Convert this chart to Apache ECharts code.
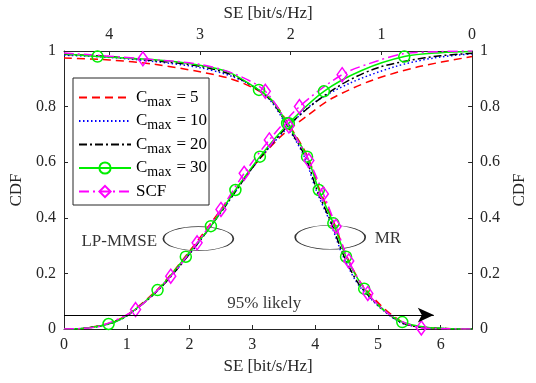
<!DOCTYPE html>
<html>
<head>
<meta charset="utf-8">
<script src="https://cdn.jsdelivr.net/npm/echarts@6/dist/echarts.min.js"></script>
<style>
  html, body { margin: 0; padding: 0; background: #ffffff; }
  #chart { width: 536px; height: 383px; }
</style>
</head>
<body>
<div id="chart"></div>
<script>
// ---- LP-MMSE CDFs (bottom SE axis) ----
const lpC5X  = [0, 0.3, 0.71, 1.0, 1.5, 2.0, 2.5, 3.0, 3.44, 3.89, 4.27, 4.9, 5.64, 6.5];
const lpC5Y  = [0, 0.002, 0.02, 0.05, 0.145, 0.28, 0.43, 0.58, 0.69, 0.77, 0.83, 0.894, 0.943, 0.98];
const lpC10X = [0, 0.3, 0.71, 1.0, 1.5, 2.0, 2.5, 3.0, 3.5, 3.96, 4.54, 5.26, 5.89, 6.5];
const lpC10Y = [0, 0.002, 0.018, 0.047, 0.14, 0.27, 0.42, 0.58, 0.71, 0.81, 0.883, 0.943, 0.975, 0.99];
const lpC20X = [0, 0.3, 0.71, 1.0, 1.5, 2.0, 2.5, 3.0, 3.5, 4.0, 4.5, 5.0, 5.5, 6.0, 6.5];
const lpC20Y = [0, 0.002, 0.018, 0.047, 0.14, 0.27, 0.42, 0.58, 0.715, 0.815, 0.89, 0.94, 0.966, 0.983, 0.992];
const lpC30X = [0, 0.3, 0.71, 1.0, 1.49, 1.94, 2.34, 2.73, 3.12, 3.58, 4.14, 4.74, 5.42, 6.0, 6.5];
const lpC30Y = [0, 0.002, 0.018, 0.048, 0.14, 0.26, 0.37, 0.50, 0.62, 0.74, 0.855, 0.93, 0.98, 0.994, 0.998];
const lpC30Marks = [2, 4, 5, 6, 7, 8, 9, 10, 12];
const lpScfX = [0, 0.3, 0.6, 1.14, 1.70, 2.12, 2.5, 2.87, 3.27, 3.75, 4.43, 5.0, 5.4, 6.0, 6.5];
const lpScfY = [0, 0.002, 0.012, 0.07, 0.19, 0.31, 0.43, 0.56, 0.68, 0.80, 0.915, 0.965, 0.99, 0.998, 1.0];
const lpScfMarks = [3, 4, 5, 6, 7, 8, 9, 10];

// ---- MR CDFs (top SE axis, reversed) ----
const mrC5X  = [4.5, 4.0, 3.5, 3.0, 2.66, 2.4, 2.2, 2.04, 1.82, 1.68, 1.52, 1.38, 1.18, 0.77, 0.4, 0];
const mrC5Y  = [0.975, 0.968, 0.952, 0.925, 0.90, 0.865, 0.82, 0.745, 0.625, 0.50, 0.38, 0.26, 0.145, 0.025, 0.003, 0];
const mrC10X = [4.5, 4.0, 3.5, 3.0, 2.66, 2.4, 2.22, 2.06, 1.85, 1.72, 1.56, 1.42, 1.22, 0.8, 0.4, 0];
const mrC10Y = [0.985, 0.977, 0.962, 0.94, 0.91, 0.87, 0.82, 0.74, 0.62, 0.50, 0.38, 0.26, 0.145, 0.025, 0.003, 0];
const mrC20X = [4.5, 4.0, 3.5, 3.0, 2.66, 2.38, 2.21, 2.05, 1.84, 1.71, 1.55, 1.41, 1.21, 0.79, 0.4, 0];
const mrC20Y = [0.988, 0.98, 0.965, 0.945, 0.915, 0.865, 0.82, 0.74, 0.62, 0.50, 0.38, 0.26, 0.145, 0.025, 0.003, 0];
const mrC30X = [4.5, 4.13, 3.56, 3.02, 2.69, 2.35, 2.2, 2.04, 1.82, 1.69, 1.53, 1.39, 1.19, 1.0, 0.77, 0.5, 0.25, 0];
const mrC30Y = [0.99, 0.98, 0.97, 0.95, 0.925, 0.86, 0.82, 0.74, 0.62, 0.50, 0.38, 0.26, 0.145, 0.075, 0.025, 0.006, 0.001, 0];
const mrC30Marks = [1, 5, 7, 8, 9, 10, 11, 12, 14];
const mrScfX = [4.5, 3.63, 3.0, 2.6, 2.28, 2.02, 1.80, 1.64, 1.50, 1.36, 1.15, 0.9, 0.56, 0.3, 0];
const mrScfY = [0.993, 0.972, 0.952, 0.915, 0.855, 0.73, 0.606, 0.486, 0.369, 0.245, 0.128, 0.05, 0.004, 0.001, 0];
const mrScfMarks = [1, 4, 5, 6, 7, 8, 9, 10, 12];

// ---- legend entries and annotations ----
const legendNames = ['C5', 'C10', 'C20', 'C30', 'SCF'];
const legendCmax  = { C5: 5, C10: 10, C20: 20, C30: 30 };
const likelyLevel = 0.05;          // CDF level of the "95% likely" arrow
const likelyArrowX = [0, 5.89];
const likelyText = '95% likely';
const likelyTextAt = [3.19, 0.05];
const lpLabelAt = [0.88, 0.316];
const lpEllipseAt = [2.14, 0.325];
const mrLabelAt = [5.16, 0.325];
const mrEllipseAt = [4.24, 0.33];

const FONT = 'Liberation Serif';
const AX = '#262626';

function points(xs, ys, marks) {
  return xs.map((x, i) => {
    const item = { value: [x, ys[i]] };
    if (!marks || marks.indexOf(i) < 0) item.symbol = 'none';
    return item;
  });
}

const styles = {
  C5:  { color: '#ff0000', type: [8, 5] },
  C10: { color: '#0000ff', type: [1.5, 2.5] },
  C20: { color: '#000000', type: [8, 3, 2, 3] },
  C30: { color: '#00ee00', type: 'solid', symbol: 'circle', size: 11 },
  SCF: { color: '#ff00ff', type: [10, 4, 2, 4], symbol: 'diamond', size: [10, 14] }
};

function curve(name, axis, xs, ys, marks) {
  const s = styles[name];
  return {
    name: name,
    type: 'line',
    xAxisIndex: axis,
    yAxisIndex: 0,
    smooth: 0.3,
    symbol: s.symbol || 'none',
    symbolSize: s.size || 0,
    showSymbol: !!s.symbol,
    lineStyle: { color: s.color, width: 1.5, type: s.type },
    itemStyle: s.symbol
      ? { color: 'transparent', borderColor: s.color, borderWidth: 1.5 }
      : { color: 'transparent', borderColor: 'transparent', borderWidth: 0 },
    emphasis: { disabled: true },
    animation: false,
    data: points(xs, ys, s.symbol ? marks : null)
  };
}

const axisText = { fontFamily: FONT, fontSize: 16, color: AX };
const nameText = { fontFamily: FONT, fontSize: 17, color: AX };

const chart = echarts.init(document.getElementById('chart'), null, { renderer: 'canvas' });

const option = {
  backgroundColor: '#ffffff',
  animation: false,
  grid: { left: 64, right: 58, top: 47, bottom: 54, containLabel: false },
  legend: {
    data: legendNames,
    orient: 'vertical',
    left: 73,
    top: 78,
    itemWidth: 52,
    itemHeight: 14,
    itemGap: 3.5,
    padding: [11, 2, 2, 5],
    backgroundColor: '#ffffff',
    borderColor: AX,
    borderWidth: 1,
    borderRadius: 0,
    selectedMode: false,
    formatter: function (name) {
      if (name === 'SCF') return '{t|SCF}{s| }';
      return '{t|C}{s|max}{e|=}{t|' + legendCmax[name] + '}';
    },
    textStyle: {
      fontFamily: FONT,
      color: '#000',
      rich: {
        t: { fontFamily: FONT, fontSize: 17, color: '#000', verticalAlign: 'middle' },
        e: { fontFamily: FONT, fontSize: 17, color: '#000', verticalAlign: 'middle', padding: [0, 4, 0, 5] },
        s: { fontFamily: FONT, fontSize: 14, color: '#000', verticalAlign: 'bottom', padding: [9, 0, 0, 0] }
      }
    }
  },
  xAxis: [
    {
      type: 'value', position: 'bottom', min: 0, max: 6.5, interval: 1,
      name: 'SE [bit/s/Hz]', nameLocation: 'middle', nameGap: 29,
      nameTextStyle: nameText,
      axisLine: { show: true, onZero: false, lineStyle: { color: AX, width: 1 } },
      axisTick: { show: true, inside: true, length: 4, lineStyle: { color: AX } },
      axisLabel: Object.assign({ margin: 8, formatter: v => (Number.isInteger(v) ? String(v) : '') }, axisText),
      splitLine: { show: false }
    },
    {
      type: 'value', position: 'top', min: 0, max: 4.5, interval: 1, inverse: true,
      name: 'SE [bit/s/Hz]', nameLocation: 'middle', nameGap: 29,
      nameTextStyle: nameText,
      axisLine: { show: true, onZero: false, lineStyle: { color: AX, width: 1 } },
      axisTick: { show: true, inside: true, length: 4, lineStyle: { color: AX } },
      axisLabel: Object.assign({ margin: 8, formatter: v => (Number.isInteger(v) ? String(v) : '') }, axisText),
      splitLine: { show: false }
    }
  ],
  yAxis: [
    {
      type: 'value', position: 'left', min: 0, max: 1, interval: 0.2,
      name: 'CDF', nameLocation: 'middle', nameGap: 35, nameRotate: 90,
      nameTextStyle: nameText,
      axisLine: { show: true, onZero: false, lineStyle: { color: AX, width: 1 } },
      axisTick: { show: true, inside: true, length: 4, lineStyle: { color: AX } },
      axisLabel: Object.assign({ margin: 8, formatter: v => String(Math.round(v * 10) / 10) }, axisText),
      splitLine: { show: false }
    },
    {
      type: 'value', position: 'right', min: 0, max: 1, interval: 0.2,
      name: 'CDF', nameLocation: 'middle', nameGap: 38, nameRotate: 90,
      nameTextStyle: nameText,
      axisLine: { show: true, onZero: false, lineStyle: { color: AX, width: 1 } },
      axisTick: { show: true, inside: true, length: 4, lineStyle: { color: AX } },
      axisLabel: Object.assign({ margin: 8, formatter: v => String(Math.round(v * 10) / 10) }, axisText),
      splitLine: { show: false }
    }
  ],
  series: [
    curve('C5', 0, lpC5X, lpC5Y),
    curve('C5', 1, mrC5X, mrC5Y),
    curve('C10', 0, lpC10X, lpC10Y),
    curve('C10', 1, mrC10X, mrC10Y),
    curve('C20', 0, lpC20X, lpC20Y),
    curve('C20', 1, mrC20X, mrC20Y),
    curve('C30', 0, lpC30X, lpC30Y, lpC30Marks),
    curve('C30', 1, mrC30X, mrC30Y, mrC30Marks),
    curve('SCF', 0, lpScfX, lpScfY, lpScfMarks),
    curve('SCF', 1, mrScfX, mrScfY, mrScfMarks),
    // "95% likely" arrow and the two ellipse callouts
    {
      type: 'scatter',
      xAxisIndex: 0, yAxisIndex: 0,
      silent: true,
      animation: false,
      symbol: 'circle',
      symbolSize: [70, 24],
      itemStyle: { color: 'transparent', borderColor: '#000', borderWidth: 1 },
      data: [lpEllipseAt, mrEllipseAt],
      markLine: {
        silent: true,
        animation: false,
        symbol: ['none', 'arrow'],
        symbolSize: [11, 16],
        label: { show: false },
        lineStyle: { color: '#000', width: 1, type: 'solid' },
        data: [[{ coord: [likelyArrowX[0], likelyLevel] }, { coord: [likelyArrowX[1], likelyLevel] }]]
      }
    },
    {
      type: 'scatter',
      xAxisIndex: 0, yAxisIndex: 0,
      silent: true,
      animation: false,
      symbolSize: 0,
      data: [
        { value: likelyTextAt, label: { formatter: likelyText, position: 'top', distance: 3 } },
        { value: lpLabelAt, label: { formatter: 'LP-MMSE', position: 'inside' } },
        { value: mrLabelAt, label: { formatter: 'MR', position: 'inside' } }
      ],
      label: { show: true, fontFamily: FONT, fontSize: 17, color: '#000' }
    }
  ]
};

chart.setOption(option);
</script>
</body>
</html>
